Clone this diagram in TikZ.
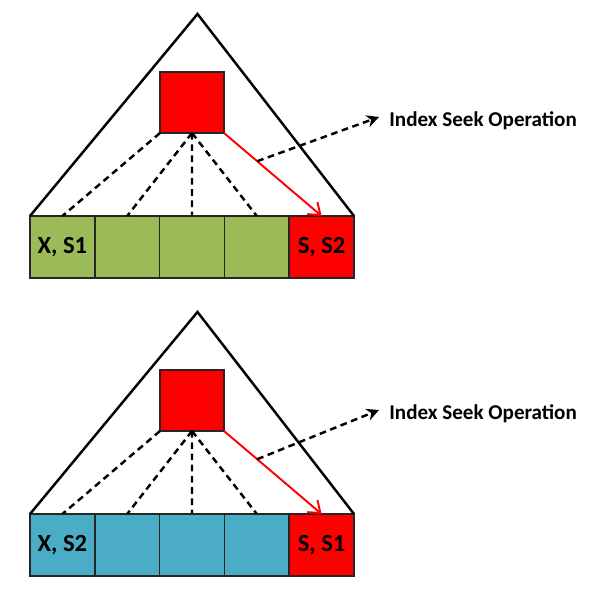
\documentclass[tikz,border=0pt]{standalone}
\usepackage{fontspec}
\setmainfont{Carlito}
\usepackage{tikz}
\usetikzlibrary{arrows.meta,positioning}
\definecolor{leaf-green}{HTML}{9BBB59}
\definecolor{leaf-blue}{HTML}{4BACC6}
\definecolor{seek-red}{HTML}{FF0000}

\begin{document}
\begin{tikzpicture}[
  cell/.style={
    rectangle, draw=black!85, line width=0.8pt,
    minimum width=1.296cm, minimum height=1.24cm,
    inner sep=0pt, outer sep=0pt,
    font=\fontsize{14}{16}\selectfont\bfseries
  },
  greencell/.style={cell, fill=leaf-green},
  bluecell/.style={cell, fill=leaf-blue},
  hitcell/.style={cell, fill=seek-red},
  rootbox/.style={
    rectangle, draw=black!85, fill=seek-red, line width=0.8pt,
    minimum width=1.28cm, minimum height=1.22cm,
    inner sep=0pt, outer sep=0pt
  },
  outline/.style={line width=1.4pt, line join=miter},
  link/.style={line width=1.4pt, dash pattern=on 3.8pt off 2.6pt},
  seek/.style={-{Straight Barb[length=6pt,width=9pt]}, line width=1.1pt, seek-red},
  callout/.style={-{Stealth[length=7pt,width=7pt]}, line width=1.4pt, dash pattern=on 3.8pt off 2.6pt},
  note/.style={anchor=west, inner sep=0pt, font=\fontsize{12}{14}\selectfont\bfseries}
]
\useasboundingbox (0,0) rectangle (12,-12);

%% Top tree
\node[rootbox] (rootA) at (3.84,-2.05) {};
\node[greencell] (gA1) at (1.248,-4.94) {X, S1};
\node[greencell, right=0pt of gA1] (gA2) {};
\node[greencell, right=0pt of gA2] (gA3) {};
\node[greencell, right=0pt of gA3] (gA4) {};
\node[hitcell, right=0pt of gA4] (gA5) {S, S2};
\coordinate (apexA) at (3.95,-0.28);
\node[note] (noteA) at (7.78,-2.42) {Index Seek Operation};

\draw[outline] (gA1.north west) -- (apexA) -- (gA5.north east);
\draw[link] (rootA.south west) -- (gA1.north);
\draw[link] (rootA.south) -- (gA2.north);
\draw[link] (rootA.south) -- (gA3.north);
\draw[link] (rootA.south) -- (gA4.north);
\draw[seek] (rootA.south east) -- coordinate[pos=0.34] (midA) (gA5.north);
\draw[callout] (midA) -- ([xshift=-0.2cm,yshift=0.08cm]noteA.west);

%% Bottom tree
\node[rootbox] (rootB) at (3.84,-8.01) {};
\node[bluecell] (bB1) at (1.248,-10.90) {X, S2};
\node[bluecell, right=0pt of bB1] (bB2) {};
\node[bluecell, right=0pt of bB2] (bB3) {};
\node[bluecell, right=0pt of bB3] (bB4) {};
\node[hitcell, right=0pt of bB4] (bB5) {S, S1};
\coordinate (apexB) at (3.95,-6.24);
\node[note] (noteB) at (7.78,-8.28) {Index Seek Operation};

\draw[outline] (bB1.north west) -- (apexB) -- (bB5.north east);
\draw[link] (rootB.south west) -- (bB1.north);
\draw[link] (rootB.south) -- (bB2.north);
\draw[link] (rootB.south) -- (bB3.north);
\draw[link] (rootB.south) -- (bB4.north);
\draw[seek] (rootB.south east) -- coordinate[pos=0.34] (midB) (bB5.north);
\draw[callout] (midB) -- ([xshift=-0.2cm,yshift=0.08cm]noteB.west);

\end{tikzpicture}
\end{document}
